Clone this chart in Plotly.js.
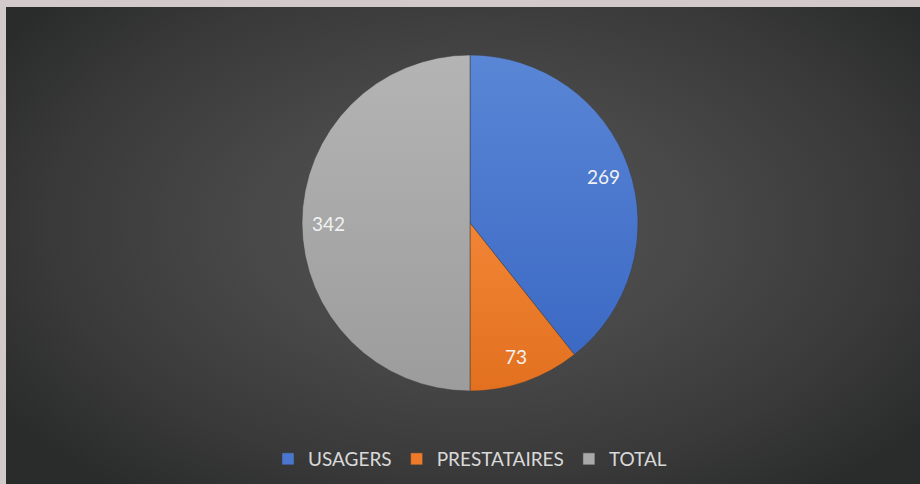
<!DOCTYPE html>
<html>
<head>
<meta charset="utf-8">
<script src="https://cdn.plot.ly/plotly-3.0.1.min.js"></script>
<style>
  html, body { margin: 0; padding: 0; width: 920px; height: 484px; overflow: hidden; background: #d2c9c9; }
  #bg { position: absolute; left: 6px; top: 7px; width: 914px; height: 477px;
        background: radial-gradient(ellipse 62% 70% at 51% 46%, #535353 0%, #484848 40%, #393939 75%, #2a2b2b 100%); }
  #chart { position: absolute; left: 0; top: 0; width: 920px; height: 484px; }
</style>
</head>
<body>
<div id="bg"></div>
<div id="chart"></div>
<script>
// Data
const categories = ["USAGERS", "PRESTATAIRES", "TOTAL"];
const values = [269, 73, 342];
const colors = ["#4a77cd", "#ed7b2a", "#a9a9a9"];
const gradTop = ["#5a86d6", "#f18535", "#b4b4b4"];
const gradBottom = ["#3c69c4", "#e2701f", "#9c9c9c"];

// Layout geometry (pixels)
const W = 920, H = 484;
const margin = {l: 20, r: 0, t: 55, b: 93};
const plotW = W - margin.l - margin.r;
const plotH = H - margin.t - margin.b;
const R = Math.min(plotW, plotH) / 2;
const labelRadius = 0.84;

const trace = {
  type: "pie",
  labels: categories,
  values: values,
  sort: false,
  direction: "clockwise",
  rotation: 0,
  marker: { colors: colors, line: { width: 0.5, color: "#3d3d3d" } },
  textinfo: "none",
  hoverinfo: "label+value",
  showlegend: true
};

// Data labels placed at the middle angle of each slice
const total = values.reduce((a, b) => a + b, 0);
let cum = 0;
const annotations = values.map((v, i) => {
  const mid = (cum + v / 2) / total * 2 * Math.PI;
  cum += v;
  const dx = labelRadius * R * Math.sin(mid);
  const dy = labelRadius * R * Math.cos(mid);
  return {
    xref: "paper", yref: "paper",
    x: 0.5 + dx / plotW, y: 0.5 + dy / plotH,
    text: String(v), showarrow: false,
    xanchor: "center", yanchor: "middle",
    font: { family: "Lato, 'Open Sans', sans-serif", size: 19, color: "#f2f2f2" }
  };
});

const layout = {
  width: W, height: H,
  margin: margin,
  paper_bgcolor: "rgba(0,0,0,0)",
  plot_bgcolor: "rgba(0,0,0,0)",
  showlegend: true,
  legend: {
    orientation: "h",
    x: 0.5, xanchor: "center",
    y: (plotH - (459 - margin.t)) / plotH, yanchor: "middle",
    font: { family: "Lato, 'Open Sans', sans-serif", size: 19, color: "#d9d9d9" },
    bgcolor: "rgba(0,0,0,0)",
    traceorder: "normal"
  },
  annotations: annotations
};

Plotly.newPlot("chart", [trace], layout, { displayModeBar: false, staticPlot: true }).then(gd => {
  // Soft vertical gradient on each slice, like the original
  const svg = gd.querySelector("svg.main-svg");
  const ns = "http://www.w3.org/2000/svg";
  let defs = svg.querySelector("defs");
  if (!defs) { defs = document.createElementNS(ns, "defs"); svg.insertBefore(defs, svg.firstChild); }
  categories.forEach((c, i) => {
    const g = document.createElementNS(ns, "linearGradient");
    g.setAttribute("id", "sliceGrad" + i);
    g.setAttribute("x1", "0"); g.setAttribute("y1", "0");
    g.setAttribute("x2", "0"); g.setAttribute("y2", "1");
    const s1 = document.createElementNS(ns, "stop");
    s1.setAttribute("offset", "0"); s1.setAttribute("stop-color", gradTop[i]);
    const s2 = document.createElementNS(ns, "stop");
    s2.setAttribute("offset", "1"); s2.setAttribute("stop-color", gradBottom[i]);
    g.appendChild(s1); g.appendChild(s2);
    defs.appendChild(g);
  });
  gd.querySelectorAll("g.slice path.surface").forEach((p, i) => {
    p.style.fill = "url(#sliceGrad" + i + ")";
  });
});
</script>
</body>
</html>
